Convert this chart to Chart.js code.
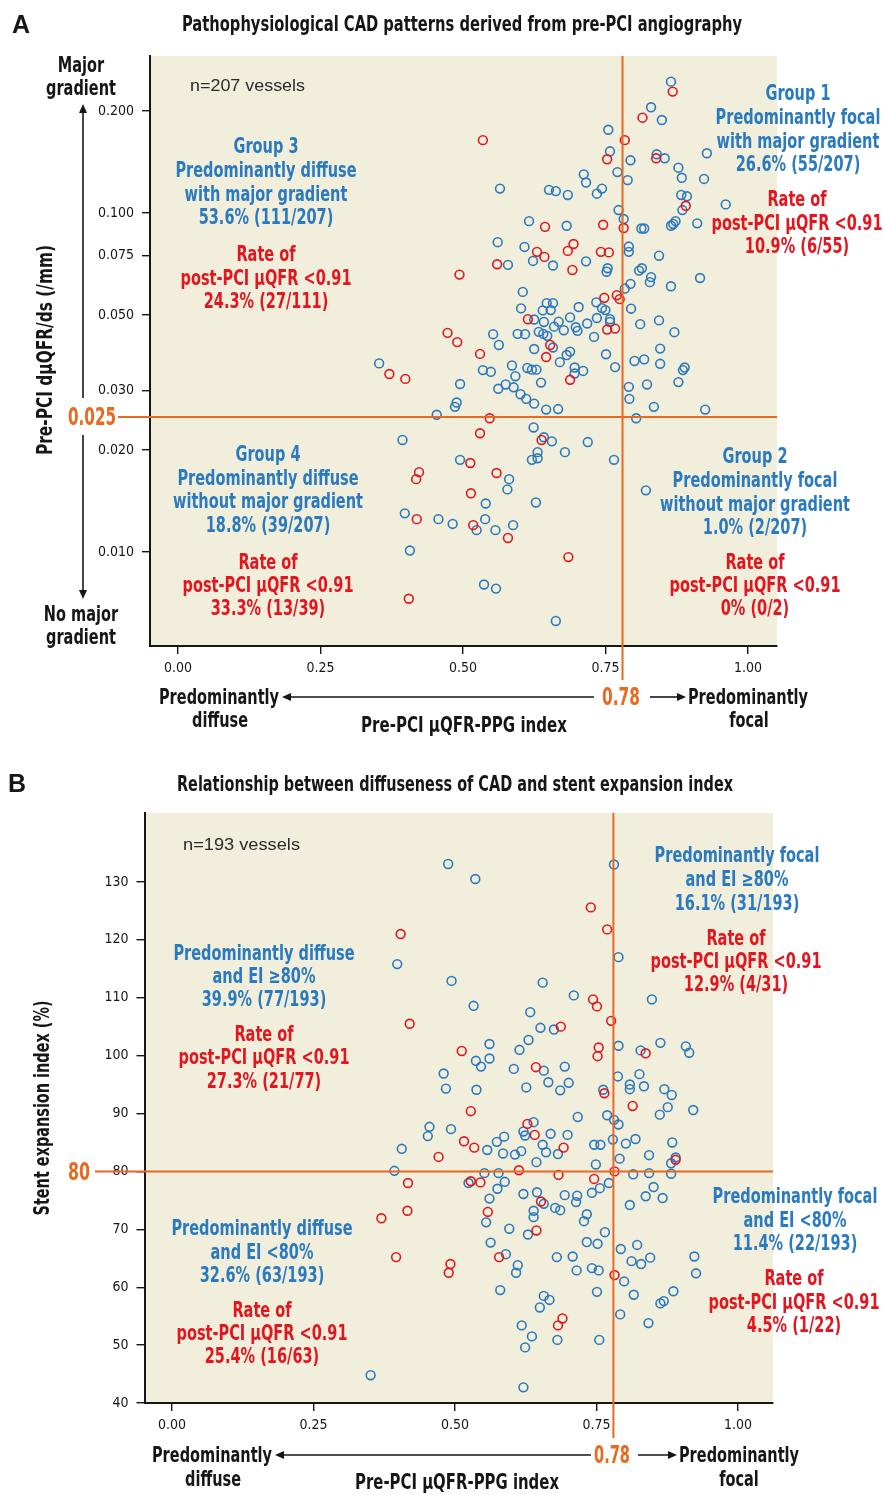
<!DOCTYPE html>
<html>
<head>
<meta charset="utf-8">
<script src="https://cdn.jsdelivr.net/npm/chart.js@4.4.1/dist/chart.umd.min.js"></script>
<style>
  body { margin: 0; background: #fff; }
  .wrap { position: absolute; left: 0; width: 884px; }
</style>
</head>
<body>
<div class="wrap" style="top:0;height:750px"><canvas id="chartA" width="884" height="750"></canvas></div>
<div class="wrap" style="top:750px;height:745px"><canvas id="chartB" width="884" height="745"></canvas></div>
<script>
// ---- data ----
const xTicks = [0, 0.25, 0.5, 0.75, 1];
const yTicksA = [0.01, 0.02, 0.03, 0.05, 0.075, 0.1, 0.2];
const yTicksB = [40, 50, 60, 70, 80, 90, 100, 110, 120, 130];
const cutX = 0.78;      // PPG index cut-off
const cutYA = 0.025;    // dμQFR/ds cut-off
const cutYB = 80;       // stent expansion cut-off

// panel A: [PPG index, dμQFR/ds]
const blueA = [
  [0.865,0.244],[0.830,0.205],[0.849,0.188],[0.755,0.176],[0.758,0.152],[0.794,0.143],[0.840,0.149],[0.854,0.145],
  [0.928,0.150],[0.878,0.136],[0.884,0.127],[0.923,0.126],[0.771,0.132],[0.789,0.125],[0.712,0.130],[0.716,0.123],
  [0.565,0.118],[0.651,0.117],[0.663,0.116],[0.684,0.113],[0.744,0.118],[0.735,0.114],[0.883,0.113],[0.893,0.112],
  [0.885,0.102],[0.961,0.106],[0.773,0.102],[0.782,0.096],[0.616,0.0946],[0.682,0.0917],[0.813,0.090],[0.818,0.090],
  [0.865,0.0917],[0.869,0.0928],[0.873,0.0946],[0.911,0.0932],[0.561,0.0820],[0.608,0.0794],[0.791,0.0796],[0.791,0.0768],
  [0.844,0.0748],[0.623,0.0722],[0.716,0.0720],[0.579,0.0703],[0.658,0.0700],[0.754,0.0687],[0.752,0.0671],[0.809,0.0676],
  [0.814,0.0687],[0.830,0.0647],[0.828,0.0625],[0.916,0.0643],[0.865,0.0608],[0.794,0.0618],[0.784,0.0598],[0.605,0.0585],
  [0.602,0.0523],[0.647,0.0542],[0.658,0.0542],[0.640,0.0516],[0.654,0.0517],[0.703,0.0528],[0.734,0.0545],[0.744,0.0524],
  [0.750,0.0517],[0.795,0.0522],[0.625,0.0485],[0.642,0.0477],[0.668,0.0478],[0.688,0.0492],[0.660,0.0462],[0.677,0.0451],
  [0.698,0.0460],[0.701,0.0449],[0.718,0.0472],[0.735,0.0490],[0.758,0.0486],[0.758,0.0477],[0.811,0.0470],[0.844,0.0482],
  [0.871,0.0445],[0.553,0.0439],[0.596,0.0440],[0.609,0.0439],[0.633,0.0446],[0.641,0.0440],[0.648,0.0434],[0.730,0.0431],
  [0.563,0.0408],[0.625,0.0397],[0.658,0.0401],[0.688,0.0390],[0.682,0.0381],[0.670,0.0363],[0.751,0.0383],[0.846,0.0398],
  [0.818,0.0370],[0.801,0.0366],[0.846,0.0359],[0.767,0.0351],[0.353,0.0360],[0.535,0.0344],[0.549,0.0340],[0.586,0.0355],
  [0.592,0.0330],[0.613,0.0349],[0.621,0.0345],[0.629,0.0345],[0.696,0.0350],[0.696,0.0336],[0.711,0.0342],[0.889,0.0350],
  [0.886,0.0344],[0.495,0.0313],[0.575,0.0312],[0.562,0.0303],[0.589,0.0306],[0.601,0.0292],[0.611,0.0283],[0.637,0.0316],
  [0.625,0.0274],[0.646,0.0263],[0.667,0.0264],[0.791,0.0307],[0.792,0.0283],[0.823,0.0312],[0.878,0.0317],[0.835,0.0268],
  [0.925,0.0263],[0.489,0.0276],[0.486,0.0268],[0.454,0.0254],[0.804,0.0248],[0.624,0.0233],[0.394,0.0214],[0.642,0.0218],
  [0.656,0.0212],[0.719,0.0211],[0.679,0.0197],[0.631,0.0197],[0.621,0.0187],[0.631,0.0189],[0.765,0.0187],[0.495,0.0187],
  [0.581,0.0164],[0.578,0.0153],[0.821,0.0152],[0.540,0.0139],[0.628,0.0140],[0.398,0.0130],[0.457,0.0125],[0.482,0.0121],
  [0.539,0.0125],[0.524,0.0116],[0.557,0.0116],[0.588,0.0120],[0.407,0.0101],[0.537,0.00802],[0.558,0.00780],[0.663,0.00626]
];
const redA = [
  [0.868,0.228],[0.815,0.191],[0.535,0.164],[0.784,0.164],[0.753,0.144],[0.839,0.145],[0.891,0.105],[0.644,0.0910],
  [0.746,0.0923],[0.782,0.0903],[0.694,0.0810],[0.684,0.0773],[0.630,0.0768],[0.643,0.0742],[0.742,0.0768],[0.756,0.0765],
  [0.560,0.0706],[0.692,0.0679],[0.494,0.0658],[0.748,0.0562],[0.770,0.0572],[0.775,0.0557],[0.614,0.0486],[0.753,0.0453],
  [0.767,0.0456],[0.473,0.0443],[0.490,0.0416],[0.530,0.0384],[0.653,0.0408],[0.646,0.0376],[0.371,0.0335],[0.399,0.0324],
  [0.688,0.0322],[0.547,0.0248],[0.530,0.0224],[0.638,0.0214],[0.513,0.0183],[0.559,0.0171],[0.423,0.0172],[0.418,0.0164],
  [0.514,0.0149],[0.419,0.0125],[0.518,0.0120],[0.579,0.0110],[0.685,0.00966],[0.405,0.00728]
];

// panel B: [PPG index, stent expansion index %]
const blueB = [
  [0.488,133.1],[0.536,130.5],[0.781,133.0],[0.789,117.0],[0.398,115.8],[0.494,112.9],[0.655,112.6],[0.710,110.4],
  [0.848,109.7],[0.533,108.6],[0.633,107.5],[0.651,104.8],[0.675,104.5],[0.630,102.7],[0.561,102.0],[0.614,101.0],
  [0.537,99.1],[0.546,98.1],[0.561,99.5],[0.480,96.9],[0.484,94.3],[0.538,94.1],[0.604,97.7],[0.657,97.4],
  [0.665,95.4],[0.626,94.5],[0.694,98.1],[0.701,95.3],[0.686,94.0],[0.789,101.7],[0.828,100.9],[0.863,102.2],
  [0.908,101.6],[0.914,100.5],[0.788,96.4],[0.826,96.8],[0.809,95.0],[0.809,94.2],[0.834,94.7],[0.870,94.2],
  [0.883,93.2],[0.762,94.1],[0.876,91.1],[0.862,89.8],[0.921,90.6],[0.717,89.4],[0.769,89.7],[0.781,88.9],
  [0.789,88.1],[0.455,87.7],[0.452,86.1],[0.493,87.3],[0.406,83.9],[0.639,88.5],[0.621,86.9],[0.624,86.2],
  [0.669,86.5],[0.699,86.3],[0.587,86.0],[0.574,85.1],[0.557,83.7],[0.585,83.1],[0.606,82.9],[0.617,83.5],
  [0.655,84.6],[0.661,83.3],[0.682,83.0],[0.644,81.6],[0.746,84.6],[0.757,84.6],[0.779,85.5],[0.802,84.8],
  [0.819,85.6],[0.884,85.0],[0.843,82.8],[0.791,82.2],[0.749,81.2],[0.890,82.4],[0.882,81.4],[0.393,80.1],
  [0.552,79.7],[0.577,79.7],[0.815,79.5],[0.843,79.7],[0.882,79.6],[0.524,78.0],[0.588,78.2],[0.575,77.0],
  [0.772,78.0],[0.756,77.1],[0.742,76.3],[0.851,77.3],[0.837,75.7],[0.867,75.4],[0.621,76.1],[0.645,76.4],
  [0.694,75.9],[0.716,75.8],[0.714,74.7],[0.561,75.3],[0.657,74.4],[0.677,73.7],[0.686,73.3],[0.809,74.2],
  [0.639,73.2],[0.639,72.1],[0.733,72.6],[0.555,71.2],[0.596,70.1],[0.629,69.1],[0.728,71.4],[0.765,69.5],
  [0.563,67.7],[0.590,65.7],[0.680,65.2],[0.708,65.3],[0.733,67.8],[0.752,67.5],[0.611,63.8],[0.608,62.5],
  [0.715,62.9],[0.742,63.3],[0.754,62.9],[0.793,66.6],[0.822,67.3],[0.812,64.5],[0.829,64.0],[0.845,65.1],
  [0.923,65.3],[0.926,62.4],[0.799,61.0],[0.816,58.7],[0.886,59.3],[0.863,57.2],[0.869,57.6],[0.792,55.3],
  [0.842,53.8],[0.751,59.2],[0.580,59.5],[0.657,58.5],[0.667,57.8],[0.650,56.5],[0.618,53.4],[0.636,51.5],
  [0.624,49.6],[0.681,50.9],[0.755,50.9],[0.351,44.8],[0.621,42.7]
];
const redB = [
  [0.740,125.6],[0.769,121.8],[0.404,121.0],[0.744,109.7],[0.751,108.5],[0.420,105.5],[0.687,105.0],[0.776,106.0],
  [0.512,100.8],[0.643,98.0],[0.754,101.4],[0.752,99.9],[0.837,100.4],[0.764,93.5],[0.814,91.3],[0.528,90.4],
  [0.628,88.2],[0.641,86.3],[0.516,85.2],[0.534,84.1],[0.471,82.5],[0.692,84.1],[0.890,82.0],[0.613,80.2],
  [0.683,79.4],[0.782,80.0],[0.746,78.7],[0.417,78.0],[0.528,78.3],[0.545,78.1],[0.652,74.8],[0.416,73.2],
  [0.558,73.0],[0.370,71.9],[0.644,69.8],[0.578,65.2],[0.396,65.2],[0.492,64.0],[0.489,62.5],[0.782,62.1],
  [0.690,54.6],[0.682,53.4]
];

// ---- look ----
const NARROW = "'Liberation Sans Narrow', 'DejaVu Sans Condensed', 'Arial Narrow', sans-serif";
const PLAIN = "'Liberation Sans', Arial, sans-serif";
const BLUE = '#2a7abf';
const RED = '#e3161f';
const ORANGE = '#e8691f';
const INK = '#161616';
const PANEL = '#f2eedc';

function txt(ctx, s, x, y, o) {
  o = o || {};
  ctx.save();
  ctx.font = (o.weight || 'bold') + ' ' + (o.size || 21) + 'px ' + (o.family || NARROW);
  ctx.fillStyle = o.color || INK;
  ctx.textAlign = o.align || 'center';
  ctx.textBaseline = 'alphabetic';
  ctx.translate(x, y);
  if (o.rot) ctx.rotate(o.rot);
  let sx = o.sx || 1;
  if (o.width) sx = o.width / ctx.measureText(s).width;
  ctx.scale(sx, 1);
  ctx.fillText(s, 0, 0);
  ctx.restore();
}

let SX = 1;
function block(ctx, lines, cx, baselines, color) {
  lines.forEach((l, i) => txt(ctx, l, cx, baselines[i], { color: color, sx: SX }));
}

function arrow(ctx, x1, y1, x2, y2) {
  const a = Math.atan2(y2 - y1, x2 - x1);
  ctx.save();
  ctx.strokeStyle = INK; ctx.fillStyle = INK; ctx.lineWidth = 1.6;
  ctx.beginPath(); ctx.moveTo(x1, y1);
  ctx.lineTo(x2 - 6 * Math.cos(a), y2 - 6 * Math.sin(a)); ctx.stroke();
  ctx.translate(x2, y2); ctx.rotate(a);
  ctx.beginPath(); ctx.moveTo(0, 0); ctx.lineTo(-9, -4); ctx.lineTo(-9, 4); ctx.closePath(); ctx.fill();
  ctx.restore();
}

function orangeLines(chart, yCut, hFrom, vTo) {
  const ctx = chart.ctx, a = chart.chartArea;
  const px = chart.scales.x.getPixelForValue(cutX);
  const py = chart.scales.y.getPixelForValue(yCut);
  ctx.save();
  ctx.strokeStyle = ORANGE; ctx.lineWidth = 2;
  ctx.beginPath();
  ctx.moveTo(px, a.top); ctx.lineTo(px, vTo);
  ctx.moveTo(hFrom, py); ctx.lineTo(a.right, py);
  ctx.stroke();
  ctx.restore();
}

const panelFill = {
  id: 'panelFill',
  beforeDraw(chart) {
    const { ctx, chartArea: a } = chart;
    ctx.save();
    ctx.fillStyle = PANEL;
    ctx.fillRect(a.left, a.top, a.right - a.left, a.bottom - a.top);
    ctx.restore();
    ctx.save();
    ctx.font = 'bold 21px ' + NARROW;
    SX = 171 / ctx.measureText('post-PCI μQFR <0.91').width;
    ctx.restore();
  }
};

const decorA = {
  id: 'decorA',
  afterDatasetsDraw(chart) { orangeLines(chart, cutYA, 118, 680); },
  afterDraw(chart) {
    const ctx = chart.ctx;
    txt(ctx, 'A', 12, 33, { family: PLAIN, size: 25, align: 'left' });
    txt(ctx, 'Pathophysiological CAD patterns derived from pre-PCI angiography', 462, 31, { size: 21, width: 560 });
    txt(ctx, 'n=207 vessels', 190, 91, { family: PLAIN, weight: 'normal', size: 16.5, align: 'left', color: '#2b2b2b', width: 115 });

    block(ctx, ['Group 3', 'Predominantly diffuse', 'with major gradient', '53.6% (111/207)'], 266, [153, 177, 200.5, 224], BLUE);
    block(ctx, ['Rate of', 'post-PCI μQFR <0.91', '24.3% (27/111)'], 266, [261, 284.5, 308], RED);
    block(ctx, ['Group 1', 'Predominantly focal', 'with major gradient', '26.6% (55/207)'], 798, [100, 124, 148, 171], BLUE);
    block(ctx, ['Rate of', 'post-PCI μQFR <0.91', '10.9% (6/55)'], 797, [206, 230, 253], RED);
    block(ctx, ['Group 4', 'Predominantly diffuse', 'without major gradient', '18.8% (39/207)'], 268, [461, 485, 508, 532], BLUE);
    block(ctx, ['Rate of', 'post-PCI μQFR <0.91', '33.3% (13/39)'], 268, [569, 592, 615], RED);
    block(ctx, ['Group 2', 'Predominantly focal', 'without major gradient', '1.0% (2/207)'], 755, [463, 487, 511, 534], BLUE);
    block(ctx, ['Rate of', 'post-PCI μQFR <0.91', '0% (0/2)'], 755, [569, 592, 615], RED);

    // left side
    txt(ctx, 'Major', 81, 72, { sx: SX });
    txt(ctx, 'gradient', 81, 95, { sx: SX });
    txt(ctx, 'No major', 81, 621, { sx: SX });
    txt(ctx, 'gradient', 81, 644, { sx: SX });
    arrow(ctx, 83, 398, 83, 104);
    arrow(ctx, 83, 435, 83, 599);
    txt(ctx, 'Pre-PCI dμQFR/ds (/mm)', 52, 350, { rot: -Math.PI / 2, width: 210 });
    txt(ctx, '0.025', 116, 425, { size: 24, color: ORANGE, align: 'right', width: 48 });

    // bottom
    txt(ctx, 'Predominantly', 219, 704, { sx: SX });
    txt(ctx, 'diffuse', 220, 727, { sx: SX });
    arrow(ctx, 594, 697, 282, 697);
    txt(ctx, '0.78', 621, 705, { size: 24, color: ORANGE, width: 38 });
    arrow(ctx, 650, 697, 686, 697);
    txt(ctx, 'Predominantly', 748, 704, { sx: SX });
    txt(ctx, 'focal', 749, 727, { sx: SX });
    txt(ctx, 'Pre-PCI μQFR-PPG index', 464, 732, { width: 206 });
  }
};

const decorB = {
  id: 'decorB',
  afterDatasetsDraw(chart) { orangeLines(chart, cutYB, 95, 688); },
  afterDraw(chart) {
    const ctx = chart.ctx;
    const o = 750; // page offset of this canvas
    txt(ctx, 'B', 8, 792 - o, { family: PLAIN, size: 25, align: 'left' });
    txt(ctx, 'Relationship between diffuseness of CAD and stent expansion index', 455, 791 - o, { size: 21, width: 556 });
    txt(ctx, 'n=193 vessels', 183, 850 - o, { family: PLAIN, weight: 'normal', size: 16.5, align: 'left', color: '#2b2b2b', width: 117 });

    block(ctx, ['Predominantly focal', 'and EI ≥80%', '16.1% (31/193)'], 737, [862 - o, 886 - o, 910 - o], BLUE);
    block(ctx, ['Rate of', 'post-PCI μQFR <0.91', '12.9% (4/31)'], 736, [945 - o, 968 - o, 991 - o], RED);
    block(ctx, ['Predominantly diffuse', 'and EI ≥80%', '39.9% (77/193)'], 264, [960 - o, 983 - o, 1006 - o], BLUE);
    block(ctx, ['Rate of', 'post-PCI μQFR <0.91', '27.3% (21/77)'], 264, [1041 - o, 1064 - o, 1088 - o], RED);
    block(ctx, ['Predominantly diffuse', 'and EI <80%', '32.6% (63/193)'], 262, [1235 - o, 1259 - o, 1282 - o], BLUE);
    block(ctx, ['Rate of', 'post-PCI μQFR <0.91', '25.4% (16/63)'], 262, [1317 - o, 1340 - o, 1363 - o], RED);
    block(ctx, ['Predominantly focal', 'and EI <80%', '11.4% (22/193)'], 795, [1203 - o, 1227 - o, 1250 - o], BLUE);
    block(ctx, ['Rate of', 'post-PCI μQFR <0.91', '4.5% (1/22)'], 794, [1285 - o, 1309 - o, 1332 - o], RED);

    txt(ctx, 'Stent expansion index (%)', 49, 1108 - o, { rot: -Math.PI / 2, width: 215 });
    txt(ctx, '80', 90, 1180 - o, { size: 24, color: ORANGE, align: 'right', width: 22 });

    txt(ctx, 'Predominantly', 212, 1462 - o, { sx: SX });
    txt(ctx, 'diffuse', 213, 1486 - o, { sx: SX });
    arrow(ctx, 591, 1455 - o, 275, 1455 - o);
    txt(ctx, '0.78', 612, 1463 - o, { size: 24, color: ORANGE, width: 36 });
    arrow(ctx, 638, 1455 - o, 677, 1455 - o);
    txt(ctx, 'Predominantly', 739, 1462 - o, { sx: SX });
    txt(ctx, 'focal', 739, 1486 - o, { sx: SX });
    txt(ctx, 'Pre-PCI μQFR-PPG index', 457, 1489 - o, { width: 204 });
  }
};

function pts(arr) { return arr.map(p => ({ x: p[0], y: p[1] })); }

function dataset(arr, color, order) {
  return {
    data: pts(arr), order: order,
    borderColor: color, backgroundColor: 'rgba(0,0,0,0)',
    pointRadius: 4.4, pointHoverRadius: 4.4, borderWidth: 1.6
  };
}

function axisCommon(extra) {
  return Object.assign({
    grid: { drawOnChartArea: false, drawTicks: true, tickLength: 8, color: INK, lineWidth: 1.4 },
    border: { display: true, color: INK, width: 2 },
    ticks: { font: { family: NARROW, size: 14 }, color: INK, maxRotation: 0, autoSkip: false }
  }, extra);
}

// panel A
new Chart(document.getElementById('chartA'), {
  type: 'scatter',
  data: { datasets: [dataset(redA, RED, 0), dataset(blueA, BLUE, 1)] },
  options: {
    responsive: false, animation: false, devicePixelRatio: 1,
    layout: { padding: { left: 90, right: 107, top: 56, bottom: 64 } },
    plugins: { legend: { display: false }, tooltip: { enabled: false } },
    scales: {
      x: axisCommon({
        type: 'linear', min: -0.049, max: 1.051,
        afterBuildTicks: s => { s.ticks = xTicks.map(v => ({ value: v })); },
        afterFit: s => { s.height = 40; },
        ticks: { font: { family: NARROW, size: 14 }, color: INK, padding: 6, maxRotation: 0, autoSkip: false,
                 callback: v => Number(v).toFixed(2) }
      }),
      y: axisCommon({
        type: 'logarithmic', min: 0.005281, max: 0.2904,
        afterBuildTicks: s => { s.ticks = yTicksA.map(v => ({ value: v })); },
        afterFit: s => { s.width = 60; },
        ticks: { font: { family: NARROW, size: 14 }, color: INK, padding: 8, autoSkip: false,
                 callback: v => Number(v).toFixed(3) }
      })
    }
  },
  plugins: [panelFill, decorA]
});

// panel B
new Chart(document.getElementById('chartB'), {
  type: 'scatter',
  data: { datasets: [dataset(redB, RED, 0), dataset(blueB, BLUE, 1)] },
  options: {
    responsive: false, animation: false, devicePixelRatio: 1,
    layout: { padding: { left: 84.5, right: 111, top: 63, bottom: 52 } },
    plugins: { legend: { display: false }, tooltip: { enabled: false } },
    scales: {
      x: axisCommon({
        type: 'linear', min: -0.0486, max: 1.062,
        afterBuildTicks: s => { s.ticks = xTicks.map(v => ({ value: v })); },
        afterFit: s => { s.height = 40; },
        ticks: { font: { family: NARROW, size: 14 }, color: INK, padding: 6, maxRotation: 0, autoSkip: false,
                 callback: v => Number(v).toFixed(2) }
      }),
      y: axisCommon({
        type: 'linear', min: 40, max: 141.9,
        afterBuildTicks: s => { s.ticks = yTicksB.map(v => ({ value: v })); },
        afterFit: s => { s.width = 60; },
        ticks: { font: { family: NARROW, size: 14 }, color: INK, padding: 8, autoSkip: false }
      })
    }
  },
  plugins: [panelFill, decorB]
});
</script>
</body>
</html>
